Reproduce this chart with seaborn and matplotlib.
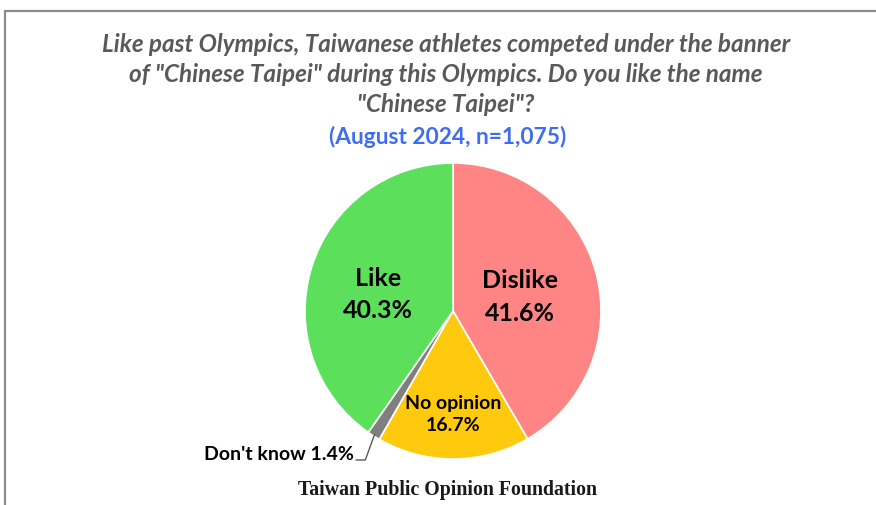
import matplotlib
matplotlib.use("Agg")
import matplotlib.pyplot as plt
import matplotlib.transforms as mtransforms
import seaborn as sns
import numpy as np

categories = ["Dislike", "No opinion", "Don't know", "Like"]
values = [41.6, 16.7, 1.4, 40.3]
colors = ["#FF8585", "#FFC90E", "#7F7F7F", "#5CE05C"]
title_lines = ["Like past Olympics, Taiwanese athletes competed under the banner",
               "of \"Chinese Taipei\" during this Olympics. Do you like the name",
               "\"Chinese Taipei\"?"]
subtitle = "(August 2024, n=1,075)"
source = "Taiwan Public Opinion Foundation"

sns.set_theme(style="white")
plt.rcParams['font.family'] = ['Lato', 'DejaVu Sans']

W, H = 876, 505
fig = plt.figure(figsize=(W / 100, H / 100), dpi=100)
fig.patch.set_facecolor("white")

# frame lines (top and left)
fig.add_artist(plt.Line2D([5 / W, 1], [1 - 11 / H, 1 - 11 / H], color="#8C8C8C", lw=1.6))
fig.add_artist(plt.Line2D([5 / W, 5 / W], [0, 1 - 11 / H], color="#8C8C8C", lw=1.6))

cx, cy, r = 453, 311, 148
ax = fig.add_axes([(cx - r) / W, (H - cy - r) / H, 2 * r / W, 2 * r / H])
wedges, _ = ax.pie(values, colors=colors, startangle=90, counterclock=False,
                   wedgeprops=dict(edgecolor="white", linewidth=1.2))
ax.set_xlim(-1, 1)
ax.set_ylim(-1, 1)
ax.set_aspect("equal")
ax.axis("off")

label_dist = {"Dislike": 0.47, "No opinion": 0.70, "Like": 0.53}
label_size = {"Dislike": 18, "No opinion": 14, "Like": 18}
label_ls = {"Dislike": 1.5, "No opinion": 1.35, "Like": 1.5}
label_dy = {"Dislike": -3, "No opinion": 0, "Like": -5}  # points
for w, cat, v in zip(wedges, categories, values):
    mid = np.deg2rad((w.theta1 + w.theta2) / 2)
    if cat in label_dist:
        d = label_dist[cat]
        tr = mtransforms.offset_copy(ax.transData, fig=fig, x=0, y=label_dy[cat], units="points")
        ax.text(d * np.cos(mid), d * np.sin(mid), f"{cat}\n{v:.1f}%", transform=tr,
                ha="center", va="center", fontsize=label_size[cat],
                fontweight="bold", color="black", linespacing=label_ls[cat])
    else:
        px, py = np.cos(mid), np.sin(mid)
        ax.annotate("", xy=(px * 0.99, py * 0.99),
                    xytext=(356 / W, 1 - 460 / H), textcoords="figure fraction",
                    arrowprops=dict(arrowstyle="-", color="#595959", lw=1.0,
                                    connectionstyle="angle,angleA=0,angleB=70,rad=0",
                                    shrinkA=0, shrinkB=0))
        fig.text(354 / W, 1 - 455 / H, f"{cat} {v:.1f}%", ha="right", va="center",
                 fontsize=14, fontweight="bold", color="black")

ys = [45, 75, 104]
for y, line in zip(ys, title_lines):
    fig.text(446 / W, 1 - y / H, line, ha="center", va="center", fontsize=17.5,
             fontweight="bold", fontstyle="italic", color="#595959")
fig.text(448 / W, 1 - 137 / H, subtitle, ha="center", va="center", fontsize=16.4,
         fontweight="bold", color="#3D6CF5")
fig.text(447 / W, 1 - 490 / H, source, ha="center", va="center", fontsize=14.3,
         fontweight="bold", color="#1a1a1a", family=["Liberation Serif"])

fig.savefig("out.png", dpi=100, facecolor="white")
